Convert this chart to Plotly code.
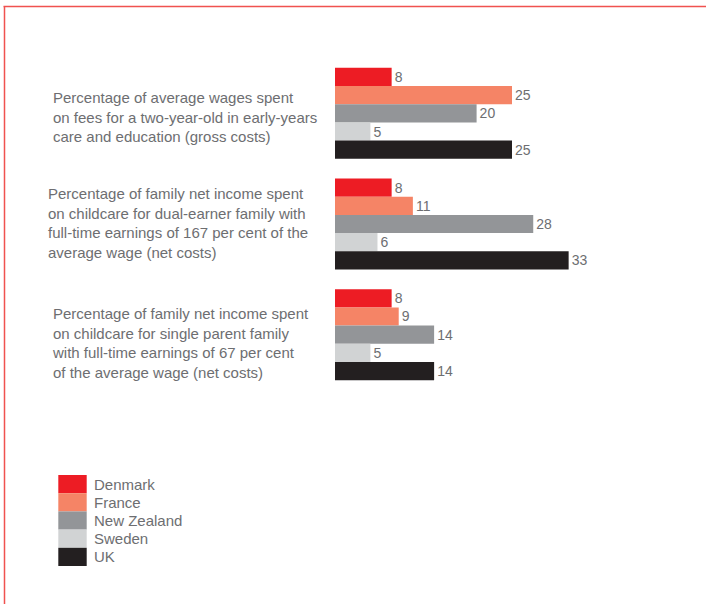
import plotly.graph_objects as go

categories = [
    "Percentage of average wages spent<br>on fees for a two-year-old in early-years<br>care and education (gross costs)",
    "Percentage of family net income spent<br>on childcare for dual-earner family with<br>full-time earnings of 167 per cent of the<br>average wage (net costs)",
    "Percentage of family net income spent<br>on childcare for single parent family<br>with full-time earnings of 67 per cent<br>of the average wage (net costs)",
]
countries = ["Denmark", "France", "New Zealand", "Sweden", "UK"]
denmark = [8, 8, 8]
france = [25, 11, 9]
new_zealand = [20, 28, 14]
sweden = [5, 6, 5]
uk = [25, 33, 14]
series = [denmark, france, new_zealand, sweden, uk]
colors = ["#ed1c24", "#f58466", "#939598", "#d1d3d4", "#231f20"]

# label style offsets (pixels)
label_yshift = [-4, 1, -8]
label_x = [51, 46, 50]

W, H = 706, 604
ML, MR, MT, MB = 335, 17, 58, 214
PW, PH = W - ML - MR, H - MT - MB
TEXT = "#6d6e71"
FONT = "Liberation Sans, Arial, Helvetica, sans-serif"


def px_x(p):
    return (p - ML) / PW


def px_y(p):
    return (H - MB - p) / PH


fig = go.Figure()
for name, vals, col in zip(countries, series, colors):
    fig.add_trace(go.Bar(
        y=categories, x=vals, orientation="h", name=name,
        marker=dict(color=col, line=dict(width=0)),
        text=[str(v) for v in vals], textposition="outside",
        textfont=dict(color=TEXT, size=14, family=FONT),
        cliponaxis=False, showlegend=False, hoverinfo="x+name",
    ))

annotations = []
for cat, ys, lx in zip(categories, label_yshift, label_x):
    annotations.append(dict(
        x=px_x(lx), xref="paper", xanchor="left", y=cat, yref="y",
        yanchor="middle", yshift=ys, text=cat, showarrow=False, align="left",
        font=dict(size=15, color=TEXT, family=FONT),
    ))

shapes = []
# frame lines
shapes.append(dict(type="line", xref="paper", yref="paper",
                   x0=px_x(3.5), x1=px_x(706), y0=px_y(6.5), y1=px_y(6.5),
                   line=dict(color="#f0524f", width=1.5)))
shapes.append(dict(type="line", xref="paper", yref="paper",
                   x0=px_x(4.5), x1=px_x(4.5), y0=px_y(6.5), y1=px_y(604),
                   line=dict(color="#f0524f", width=1.5)))
# legend
sw_top, sw_h = 475, 18.2
for i, (name, col) in enumerate(zip(countries, colors)):
    t = sw_top + i * sw_h
    shapes.append(dict(type="rect", xref="paper", yref="paper",
                       x0=px_x(58.3), x1=px_x(86.7), y0=px_y(t + sw_h), y1=px_y(t),
                       fillcolor=col, line=dict(width=0)))
    annotations.append(dict(
        x=px_x(91.5), xref="paper", xanchor="left", y=px_y(t + sw_h / 2), yref="paper",
        yanchor="middle", text=name, showarrow=False,
        font=dict(size=15, color=TEXT, family=FONT),
    ))

fig.update_layout(
    width=W, height=H,
    margin=dict(l=ML, r=MR, t=MT, b=MB, pad=0),
    paper_bgcolor="white", plot_bgcolor="white",
    barmode="group", bargap=0.178, bargroupgap=0,
    font=dict(family=FONT, color=TEXT),
    xaxis=dict(range=[0, 50], visible=False, showgrid=False, zeroline=False),
    yaxis=dict(autorange="reversed", showticklabels=False, showgrid=False,
               zeroline=False, ticks=""),
    annotations=annotations, shapes=shapes,
    showlegend=False,
)

fig.write_html(
    "out.html",
    config={"displayModeBar": False},
    post_script="document.body.style.margin='0';document.body.style.overflow='hidden';",
)
